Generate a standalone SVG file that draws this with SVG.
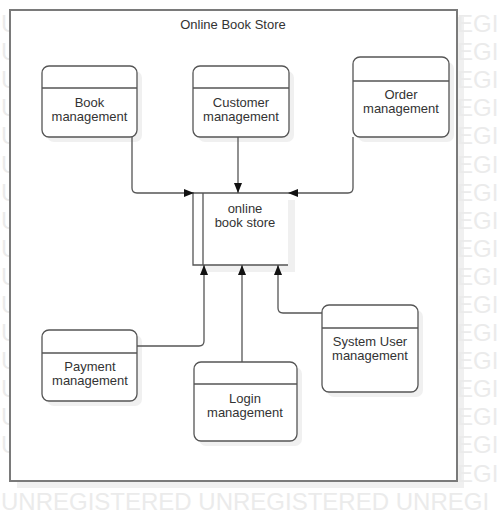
<svg xmlns="http://www.w3.org/2000/svg" width="497" height="521" viewBox="0 0 497 521">
<defs>
<style>
.wm{font-family:"Liberation Sans",Arial,sans-serif;font-size:24px;fill:#ebebeb}
.t{font-family:"Liberation Sans",Arial,sans-serif;font-size:13px;fill:#333;text-anchor:middle}
.box{fill:#fff;stroke:#555;stroke-width:1.3}
.sh{fill:#f0f0f0}
.ln{fill:none;stroke:#555;stroke-width:1.3}
.c{fill:none;stroke:#555;stroke-width:1.3;marker-end:url(#ah)}
</style>
<marker id="ah" viewBox="0 0 10 10" refX="10" refY="5" markerWidth="10" markerHeight="10" markerUnits="userSpaceOnUse" orient="auto">
<path d="M0,1 L10,5 L0,9 Z" fill="#111"/>
</marker>
<clipPath id="wl"><rect x="0" y="0" width="10" height="521"/></clipPath>
<clipPath id="wr"><rect x="457" y="0" width="40" height="521"/></clipPath>
</defs>
<rect width="497" height="521" fill="#fff"/>
<g id="frame-shadow">
<rect class="sh" x="17" y="17" width="447" height="471"/>
</g>
<g id="watermark">
<g clip-path="url(#wl)">
<text class="wm" x="1" y="32">U</text>
<text class="wm" x="1" y="60">U</text>
<text class="wm" x="1" y="88">U</text>
<text class="wm" x="1" y="116">U</text>
<text class="wm" x="1" y="144">U</text>
<text class="wm" x="1" y="173">U</text>
<text class="wm" x="1" y="201">U</text>
<text class="wm" x="1" y="229">U</text>
<text class="wm" x="1" y="257">U</text>
<text class="wm" x="1" y="285">U</text>
<text class="wm" x="1" y="313">U</text>
<text class="wm" x="1" y="341">U</text>
<text class="wm" x="1" y="369">U</text>
<text class="wm" x="1" y="397">U</text>
<text class="wm" x="1" y="425">U</text>
<text class="wm" x="1" y="453">U</text>
</g>
<g clip-path="url(#wr)">
<text class="wm" x="457" y="32">EGI</text>
<text class="wm" x="457" y="60">EGI</text>
<text class="wm" x="457" y="88">EGI</text>
<text class="wm" x="457" y="116">EGI</text>
<text class="wm" x="457" y="144">EGI</text>
<text class="wm" x="457" y="173">EGI</text>
<text class="wm" x="457" y="201">EGI</text>
<text class="wm" x="457" y="229">EGI</text>
<text class="wm" x="457" y="257">EGI</text>
<text class="wm" x="457" y="285">EGI</text>
<text class="wm" x="457" y="313">EGI</text>
<text class="wm" x="457" y="341">EGI</text>
<text class="wm" x="457" y="369">EGI</text>
<text class="wm" x="457" y="397">EGI</text>
<text class="wm" x="457" y="425">EGI</text>
<text class="wm" x="457" y="453">EGI</text>
<text class="wm" x="457" y="482">EGI</text>
</g>
<text class="wm" x="1" y="510">UNREGISTERED UNREGISTERED UNREGI</text>
</g>
<g id="frame">
<rect x="10" y="10" width="447" height="471" fill="#fff" stroke="#7a7a7a" stroke-width="2"/>
<text class="t" x="233" y="29">Online Book Store</text>
</g>
<g id="book">
<rect class="sh" x="47" y="71" width="95" height="71" rx="7"/>
<rect class="box" x="42" y="66" width="95" height="71" rx="7"/>
<line class="ln" x1="42" y1="88" x2="137" y2="88"/>
<text class="t" x="89.5" y="107">Book</text>
<text class="t" x="89.5" y="121">management</text>
</g>
<g id="customer">
<rect class="sh" x="198" y="71" width="96" height="71" rx="7"/>
<rect class="box" x="193" y="66" width="96" height="71" rx="7"/>
<line class="ln" x1="193" y1="88" x2="289" y2="88"/>
<text class="t" x="241" y="107">Customer</text>
<text class="t" x="241" y="121">management</text>
</g>
<g id="order">
<rect class="sh" x="358" y="62" width="96" height="80" rx="7"/>
<rect class="box" x="353" y="57" width="96" height="80" rx="7"/>
<line class="ln" x1="353" y1="81" x2="449" y2="81"/>
<text class="t" x="401" y="99">Order</text>
<text class="t" x="401" y="113">management</text>
</g>
<g id="store">
<rect class="sh" x="200" y="200" width="95" height="72"/>
<rect x="193" y="193" width="95" height="72" fill="#fff"/>
<path class="ln" d="M288,193 H193 V265 H288 M203,193 V265"/>
<text class="t" x="245" y="213">online</text>
<text class="t" x="245" y="227">book store</text>
</g>
<g id="payment">
<rect class="sh" x="47" y="335" width="95" height="71" rx="7"/>
<rect class="box" x="42" y="330" width="95" height="71" rx="7"/>
<line class="ln" x1="42" y1="353" x2="137" y2="353"/>
<text class="t" x="90" y="371">Payment</text>
<text class="t" x="90" y="385">management</text>
</g>
<g id="login">
<rect class="sh" x="199" y="367" width="103" height="79" rx="7"/>
<rect class="box" x="194" y="362" width="103" height="79" rx="7"/>
<line class="ln" x1="194" y1="384" x2="297" y2="384"/>
<text class="t" x="245" y="403">Login</text>
<text class="t" x="245" y="417">management</text>
</g>
<g id="sysuser">
<rect class="sh" x="327" y="310" width="96" height="87" rx="7"/>
<rect class="box" x="322" y="305" width="96" height="87" rx="7"/>
<line class="ln" x1="322" y1="328" x2="418" y2="328"/>
<text class="t" x="370" y="346">System User</text>
<text class="t" x="370" y="360">management</text>
</g>
<g id="connectors">
<path class="c" d="M132,137 V188 Q132,193 137,193 H194"/>
<path class="c" d="M238,137 V193"/>
<path class="c" d="M353,137 V188 Q353,193 348,193 H288"/>
<path class="c" d="M137,346 H199 Q204,346 204,341 V265"/>
<path class="c" d="M242,362 V265"/>
<path class="c" d="M322,313 H283 Q278,313 278,308 V265"/>
</g>
</svg>
